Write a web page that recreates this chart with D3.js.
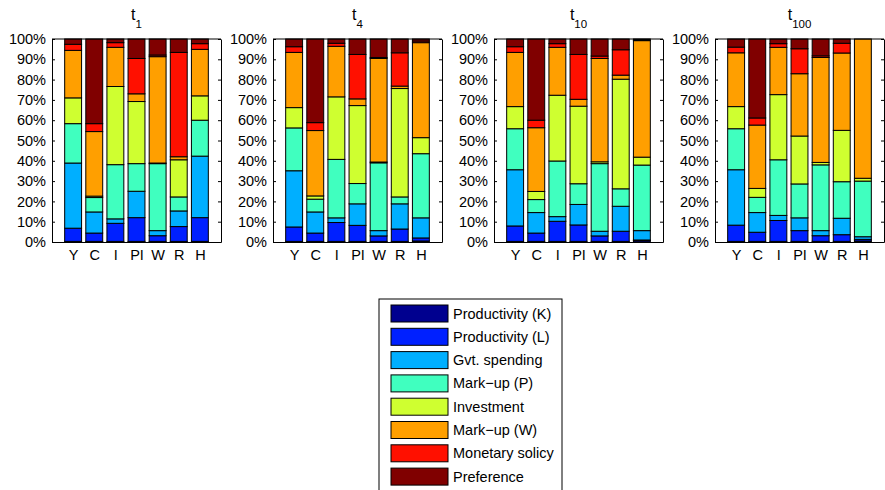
<!DOCTYPE html>
<html>
<head>
<meta charset="utf-8">
<script src="https://cdn.jsdelivr.net/npm/d3@7"></script>
<style>
  body { margin: 0; background: #fff; }
  svg { font-family: "Liberation Sans", Arial, sans-serif; }
</style>
</head>
<body>
<svg width="885" height="490"></svg>
<script>
// data ======================================================
var categories = ["Y", "C", "I", "PI", "W", "R", "H"];
var seriesNames = ["Productivity (K)", "Productivity (L)", "Gvt. spending", "Mark\u2212up (P)",
                   "Investment", "Mark\u2212up (W)", "Monetary solicy", "Preference"];
var seriesColors = ["#00008f", "#0020ff", "#00afff", "#40ffbf", "#cfff30", "#ff9f00", "#ff1000", "#800000"];
var periods = ["1", "4", "10", "100"];
var yTicks = [0, 10, 20, 30, 40, 50, 60, 70, 80, 90, 100];

// shares in %, one row per category, columns in seriesNames order
var shares_t1 = [
  [0.3, 6.5, 32.1, 19.4, 12.7, 23.4, 3.0, 2.6],
  [0.3, 4.1, 10.4, 7.1, 0.7, 31.8, 3.9, 41.7],
  [0.3, 8.9, 2.2, 26.7, 38.5, 19.3, 2.3, 1.8],
  [0.3, 11.7, 13.0, 13.6, 30.6, 3.8, 17.4, 9.6],
  [0.3, 2.8, 2.5, 33.0, 0.3, 52.4, 0.8, 7.9],
  [0.3, 7.3, 7.7, 6.9, 18.3, 1.5, 51.4, 6.6],
  [0.3, 11.7, 30.3, 17.7, 12.0, 22.9, 2.8, 2.3]
];
var shares_t4 = [
  [0.3, 7.1, 27.7, 21.1, 10.0, 27.2, 2.8, 3.8],
  [0.3, 4.1, 10.4, 6.3, 1.6, 32.2, 3.9, 41.2],
  [0.3, 9.3, 2.3, 28.8, 30.8, 24.9, 1.5, 2.1],
  [0.3, 7.9, 10.6, 10.0, 38.4, 3.3, 21.9, 7.6],
  [0.3, 2.7, 2.6, 33.4, 0.4, 51.0, 0.5, 9.1],
  [0.3, 6.1, 12.4, 3.4, 53.4, 1.2, 16.4, 6.8],
  [0.5, 1.5, 9.9, 31.6, 7.9, 46.8, 0.8, 1.0]
];
var shares_t10 = [
  [0.3, 7.6, 27.7, 20.2, 10.9, 26.7, 2.8, 3.8],
  [0.3, 4.1, 10.1, 6.4, 4.0, 31.4, 3.7, 40.0],
  [0.3, 9.9, 2.3, 27.4, 32.4, 23.6, 1.8, 2.3],
  [0.3, 8.1, 10.1, 10.2, 38.2, 3.4, 22.1, 7.6],
  [0.3, 2.7, 2.3, 33.3, 0.9, 50.9, 1.2, 8.4],
  [0.3, 5.0, 12.3, 8.6, 54.0, 2.0, 12.5, 5.3],
  [0.7, 0.3, 4.6, 32.3, 3.9, 57.4, 0.3, 0.5]
];
var shares_t100 = [
  [0.3, 8.0, 27.3, 20.2, 10.9, 26.5, 2.8, 4.0],
  [0.3, 4.5, 9.7, 7.5, 4.4, 31.2, 3.5, 38.9],
  [0.3, 10.3, 2.5, 27.4, 32.1, 23.3, 1.8, 2.3],
  [0.3, 5.3, 6.3, 16.7, 23.6, 30.7, 12.3, 4.8],
  [0.3, 2.8, 2.5, 32.4, 1.2, 51.7, 0.8, 8.3],
  [0.3, 3.3, 8.1, 18.0, 25.3, 38.1, 4.8, 2.1],
  [0.5, 0.8, 1.3, 27.4, 1.4, 68.6, 0, 0]
];
var allShares = [shares_t1, shares_t4, shares_t10, shares_t100];

// layout ====================================================
var svg = d3.select("svg");
var panelLeft = [52, 273, 494, 715],
    panelW = 169,
    plotTop = 39, plotBottom = 242,
    fontSize = 14.5;

var y = d3.scaleLinear().domain([0, 100]).range([plotBottom, plotTop]);
var keys = d3.range(seriesNames.length);

function drawPanel(p) {
  var x0 = panelLeft[p];
  var x = d3.scaleLinear().domain([0, 8]).range([x0, x0 + panelW]);
  var rows = allShares[p].map(function(r) {
    var o = {}; r.forEach(function(v, i) { o[i] = v; }); return o;
  });
  var stacked = d3.stack().keys(keys)(rows);
  var g = svg.append("g");
  var bw = x(0.8) - x(0);

  g.selectAll("g.layer").data(stacked).enter().append("g")
      .attr("class", "layer")
      .attr("fill", function(d, i) { return seriesColors[i]; })
    .selectAll("rect").data(function(d) { return d; }).enter().append("rect")
      .attr("x", function(d, i) { return x(i + 1) - bw / 2; })
      .attr("width", bw)
      .attr("y", function(d) { return y(d[1]); })
      .attr("height", function(d) { return y(d[0]) - y(d[1]); })
      .attr("stroke", "#000")
      .attr("stroke-width", 1);

  // left & right axes, ticks inside
  var left = g.append("g").attr("transform", "translate(" + x0 + ",0)")
    .call(d3.axisLeft(y).tickValues(yTicks).tickSizeInner(-3).tickSizeOuter(0)
          .tickPadding(8).tickFormat(function(d) { return d + "%"; }));
  var right = g.append("g").attr("transform", "translate(" + (x0 + panelW) + ",0)")
    .call(d3.axisRight(y).tickValues(yTicks).tickSizeInner(-3).tickSizeOuter(0).tickFormat(""));
  var bot = g.append("g").attr("transform", "translate(0," + plotBottom + ")")
    .call(d3.axisBottom(x).tickValues(d3.range(1, 8)).tickSizeInner(0).tickSizeOuter(0)
          .tickPadding(8).tickFormat(function(d) { return categories[d - 1]; }));
  [left, right, bot].forEach(function(a) {
    a.selectAll("text").attr("font-size", fontSize).attr("font-family", "Liberation Sans, Arial, sans-serif").attr("fill", "#000");
    a.select(".domain").attr("stroke", "#000");
  });
  left.selectAll("text").attr("x", -6);
  g.append("line").attr("x1", x0).attr("x2", x0 + panelW).attr("y1", plotTop).attr("y2", plotTop)
    .attr("stroke", "#000");

  // title t with subscript
  var t = g.append("text").attr("x", x0 + panelW / 2).attr("y", 20)
    .attr("text-anchor", "middle").attr("font-size", 16);
  t.append("tspan").text("t");
  t.append("tspan").attr("font-size", 11.5).attr("dy", 8).text(periods[p]);
}

periods.forEach(function(d, p) { drawPanel(p); });

// legend ====================================================
var leg = svg.append("g").attr("transform", "translate(379,299)");
leg.append("rect").attr("width", 183).attr("height", 196)
  .attr("fill", "#fff").attr("stroke", "#000");
var item = leg.selectAll("g.item").data(seriesNames).enter().append("g")
  .attr("transform", function(d, i) { return "translate(12," + (6 + i * 23.3) + ")"; });
item.append("rect").attr("width", 57).attr("height", 17)
  .attr("fill", function(d, i) { return seriesColors[i]; })
  .attr("stroke", "#000");
item.append("text").attr("x", 62).attr("y", 8.5).attr("dy", "0.35em")
  .attr("font-size", fontSize).text(function(d) { return d; });
</script>
</body>
</html>
